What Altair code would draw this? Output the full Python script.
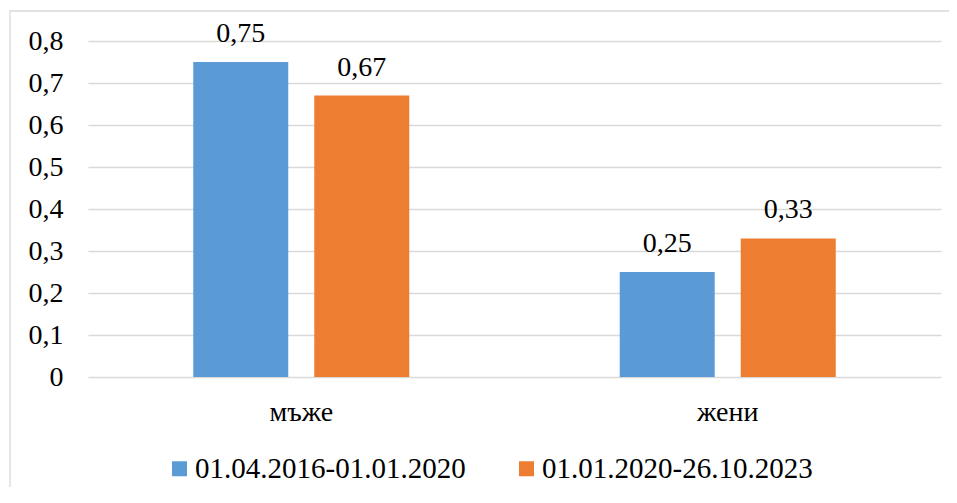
import altair as alt
import pandas as pd

categories = ["мъже", "мъже", "жени", "жени"]
periods = ["01.04.2016-01.01.2020", "01.01.2020-26.10.2023",
           "01.04.2016-01.01.2020", "01.01.2020-26.10.2023"]
values = [0.75, 0.67, 0.25, 0.33]
cat_order = ["мъже", "жени"]
period_order = ["01.04.2016-01.01.2020", "01.01.2020-26.10.2023"]
colors = ["#5B9BD5", "#ED7D31"]
y_ticks = [0, 0.1, 0.2, 0.3, 0.4, 0.5, 0.6, 0.7, 0.8]

df = pd.DataFrame({"cat": categories, "period": periods, "value": values})

FONT = "'Liberation Serif', 'Times New Roman', serif"
FS = 28

x = alt.X("cat:N", sort=cat_order, title=None,
          scale=alt.Scale(paddingInner=0.4935, paddingOuter=0.2468),
          axis=alt.Axis(labelAngle=0, labelFontSize=FS, labelFont=FONT,
                        labelColor="#000000", ticks=False, domain=False,
                        labelPadding=21))
xo = alt.XOffset("period:N", sort=period_order,
                 scale=alt.Scale(paddingInner=0.215, paddingOuter=0))

base = alt.Chart(df)

bars = base.mark_bar().encode(
    x=x, xOffset=xo,
    y=alt.Y("value:Q", title=None,
            scale=alt.Scale(domain=[0, 0.8], nice=False),
            axis=alt.Axis(values=y_ticks, labelFontSize=FS, labelFont=FONT,
                          labelColor="#000000", ticks=False, domain=False,
                          labelPadding=25, gridColor="#D9D9D9", gridWidth=1.3,
                          labelExpr="replace(format(datum.value, '~g'), '.', ',')")),
    color=alt.Color("period:N", sort=period_order,
                    scale=alt.Scale(domain=period_order, range=colors),
                    legend=alt.Legend(title=None, orient="none", legendX=77,
                                      legendY=413, direction="horizontal",
                                      symbolType="square", symbolSize=225,
                                      symbolStrokeWidth=0,
                                      labelFontSize=29, labelFont=FONT,
                                      labelColor="#000000", columnPadding=46,
                                      labelOffset=1, labelLimit=0)),
)

labels = base.mark_text(baseline="bottom", dy=-14, fontSize=FS, font=FONT,
                        color="#000000").transform_calculate(
    lab="replace(format(datum.value, '.2f'), '.', ',')"
).encode(x=x, xOffset=xo, y="value:Q", text="lab:N")

frame = alt.Chart(pd.DataFrame({"a": [0]})).mark_rect(
    fill=None, stroke="#D9D9D9", strokeWidth=1.3
).encode(x=alt.value(-78), x2=alt.value(880), y=alt.value(-30), y2=alt.value(480))

chart = alt.layer(frame, bars, labels).properties(
    width=853, height=336,
    padding={"left": 80, "top": 33, "right": 8, "bottom": 110},
    autosize=alt.AutoSizeParams(type="none"),
).configure_view(stroke=None)

chart.save("out.html", embed_options={"renderer": "svg", "actions": False})
